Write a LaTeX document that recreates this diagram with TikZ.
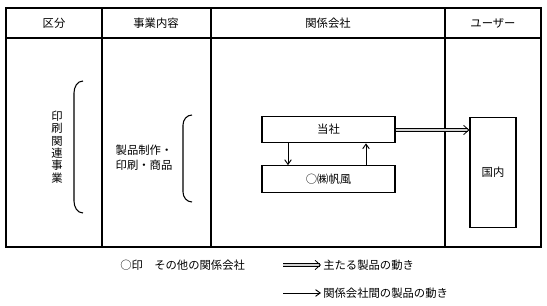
\documentclass[tikz,border=0pt]{standalone}
\usepackage{fontspec}
\setmainfont{Noto Sans CJK JP}
\usetikzlibrary{arrows.meta}
\begin{document}
\begin{tikzpicture}[x=0.75pt,y=-0.75pt,
  txt/.style={inner sep=0pt,font=\fontsize{8.5}{10}\selectfont},
  box/.style={draw,line width=0.8pt,minimum width=99.75pt,minimum height=20pt,inner sep=0pt,font=\fontsize{8.5}{10}\selectfont},
  grid/.style={line width=0.8pt},
  flow/.style={line width=0.7pt,-{Straight Barb[length=3.5pt,width=5pt]}},
  mainflow/.style={double=gray!35,double distance=1.6pt,line width=0.6pt,-{Straight Barb[length=4pt,width=7pt]}},
  paren/.style={line width=0.8pt}]
\useasboundingbox (0,0) rectangle (547,306);
% table
\draw[grid] (6,8) rectangle (541,247);
\draw[grid] (6,38) -- (541,38);
\draw[grid] (102,8) -- (102,247);
\draw[grid] (211,8) -- (211,247);
\draw[grid] (445,8) -- (445,247);
% headers
\node[txt] (h1) at (54,23) {区分};
\node[txt] (h2) at (156,23) {事業内容};
\node[txt] (h3) at (328,23) {関係会社};
\node[txt] (h4) at (493,23) {ユーザー};
% column 1
\node[txt,align=center,font=\fontsize{8.5}{9.3}\selectfont] (c1) at (57,147) {印\\刷\\関\\連\\事\\業};
\draw[paren] (83,81) to[out=180,in=90] (74,93) -- (74,201) to[out=-90,in=180] (83,213);
% column 2
\node[txt,align=left,font=\fontsize{8.5}{11.3}\selectfont] (c2) at (144,158) {製品制作・\\印刷・商品};
\draw[paren] (192,115) to[out=180,in=90] (183,125) -- (183,192) to[out=-90,in=180] (192,202);
% companies
\node[box] (toh) at (328.5,129.5) {当社};
\node[box] (hf) at (328.5,179) {○㈱帆風};
\node[draw,line width=0.8pt,minimum width=34.5pt,minimum height=83pt,inner sep=0pt,font=\fontsize{8.5}{10}\selectfont] (kn) at (493,172.5) {国内};
\draw[flow] (toh.south -| 288,0) -- (hf.north -| 288,0);
\draw[flow] (hf.north -| 366,0) -- (toh.south -| 366,0);
\draw[mainflow] (toh.east |- 0,130) -- (kn.west |- 0,130);
% legend
\node[txt,anchor=west] (l1) at (120,265) {○印　その他の関係会社};
\coordinate (a1s) at (283,265);
\coordinate (a1e) at (321,265);
\draw[mainflow] (a1s) -- (a1e);
\node[txt,anchor=west] (l2) at (323,265) {主たる製品の動き};
\coordinate (a2s) at (283,293);
\coordinate (a2e) at (321,293);
\draw[flow] (a2s) -- (a2e);
\node[txt,anchor=west] (l3) at (323,293) {関係会社間の製品の動き};
\end{tikzpicture}
\end{document}
